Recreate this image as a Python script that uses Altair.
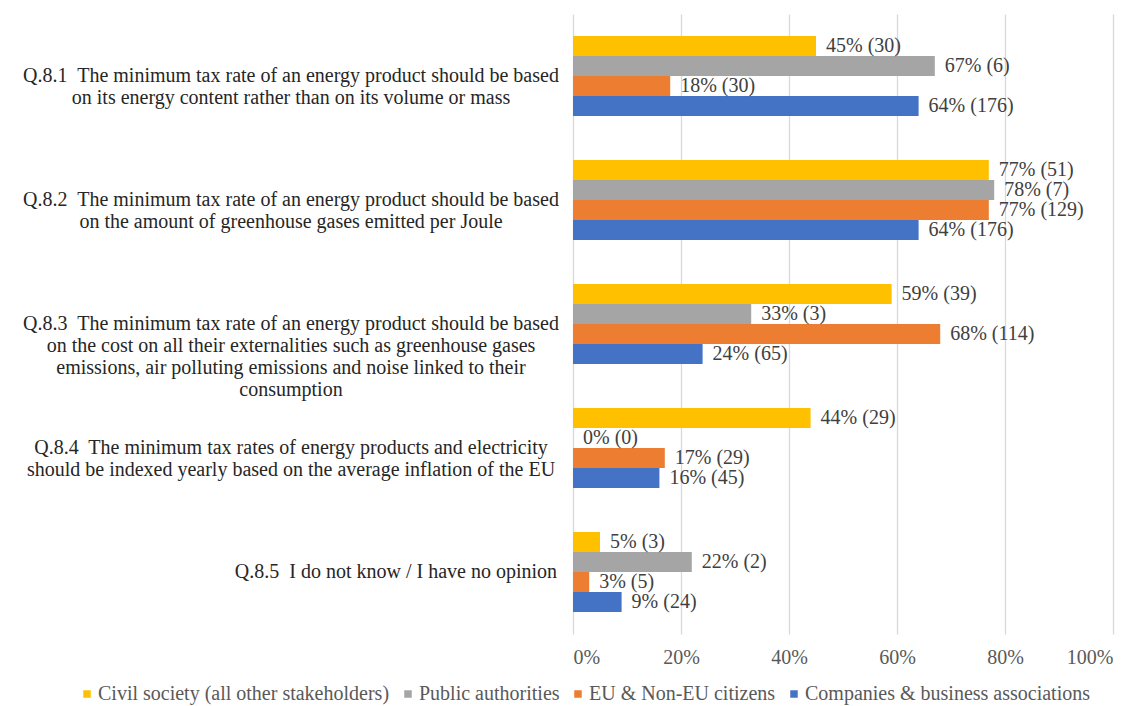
import altair as alt
import pandas as pd

questions = ["Q.8.1", "Q.8.2", "Q.8.3", "Q.8.4", "Q.8.5"]
question_texts = [
    "Q.8.1\u00a0 The minimum tax rate of an energy product should be based|on its energy content rather than on its volume or mass",
    "Q.8.2\u00a0 The minimum tax rate of an energy product should be based|on the amount of greenhouse gases emitted per Joule",
    "Q.8.3\u00a0 The minimum tax rate of an energy product should be based|on the cost on all their externalities such as greenhouse gases|emissions, air polluting emissions and noise linked to their|consumption",
    "Q.8.4\u00a0 The minimum tax rates of energy products and electricity|should be indexed yearly based on the average inflation of the EU",
    "Q.8.5\u00a0 I do not know / I have no opinion",
]
groups = [
    "Civil society (all other stakeholders)",
    "Public authorities",
    "EU & Non-EU citizens",
    "Companies & business associations",
]
colors = ["#FFC000", "#A5A5A5", "#ED7D31", "#4472C4"]

# percentages per question, one list per group
civil_pct = [45, 77, 59, 44, 5]
public_pct = [67, 78, 33, 0, 22]
citizens_pct = [18, 77, 68, 17, 3]
companies_pct = [64, 64, 24, 16, 9]
# counts per question
civil_n = [30, 51, 39, 29, 3]
public_n = [6, 7, 3, 0, 2]
citizens_n = [30, 129, 114, 29, 5]
companies_n = [176, 176, 65, 45, 24]

pcts = [civil_pct, public_pct, citizens_pct, companies_pct]
counts = [civil_n, public_n, citizens_n, companies_n]

rows = []
for gi, g in enumerate(groups):
    for qi, q in enumerate(questions):
        rows.append({
            "q": q,
            "group": g,
            "pct": pcts[gi][qi] / 100,
            "label": f"{pcts[gi][qi]}% ({counts[gi][qi]})",
        })
df = pd.DataFrame(rows)
qdf = pd.DataFrame({"q": questions, "text": question_texts})

FONT = "'Liberation Serif', 'Times New Roman', Times, serif"

y_scale = alt.Scale(domain=questions, paddingInner=0.355, paddingOuter=0.1775)
y_enc = alt.Y("q:N", scale=y_scale, axis=None)

bars = alt.Chart(df).mark_bar().encode(
    x=alt.X("pct:Q", scale=alt.Scale(domain=[0, 1]),
            axis=alt.Axis(values=[0, 0.2, 0.4, 0.6, 0.8, 1.0], format=".0%",
                          grid=True, gridColor="#D9D9D9", gridWidth=1.3,
                          domain=False, ticks=False, labelFont=FONT,
                          labelFontSize=20, labelColor="#595959",
                          labelPadding=13, title=None)),
    y=y_enc,
    yOffset=alt.YOffset("group:N", sort=groups),
    color=alt.Color("group:N", sort=groups,
                    scale=alt.Scale(domain=groups, range=colors),
                    legend=alt.Legend(orient="none", legendX=-496, legendY=670,
                                      direction="horizontal", title=None,
                                      symbolType="square", symbolSize=56,
                                      symbolStrokeWidth=0, labelOffset=1,
                                      labelFont=FONT, labelFontSize=20,
                                      labelColor="#595959", columnPadding=8,
                                      labelLimit=0)),
)

values = alt.Chart(df).mark_text(align="left", baseline="middle", dx=10,
                                 font=FONT, fontSize=20, color="#404040").encode(
    x="pct:Q",
    y=y_enc,
    yOffset=alt.YOffset("group:N", sort=groups),
    text="label:N",
)

qlabels_multi = alt.Chart(qdf).transform_filter(
    "indexof(datum.text, '|') >= 0"
).mark_text(align="center", baseline="middle", lineBreak="|", lineHeight=22,
            font=FONT, fontSize=20, color="#262626").encode(
    x=alt.value(-282),
    y=alt.Y("q:N", scale=y_scale, axis=None),
    text="text:N",
)
qlabels_single = alt.Chart(qdf).transform_filter(
    "indexof(datum.text, '|') < 0"
).mark_text(align="right", baseline="middle",
            font=FONT, fontSize=20, color="#262626").encode(
    x=alt.value(-16),
    y=alt.Y("q:N", scale=y_scale, axis=None),
    text="text:N",
)

chart = alt.layer(bars, values, qlabels_multi, qlabels_single).properties(
    width=540, height=620,
    autosize=alt.AutoSizeParams(type="none"),
    padding={"left": 573, "top": 14, "right": 25, "bottom": 72},
    background="white",
).configure_view(stroke=None)

chart.save("out.html", embed_options={"renderer": "svg", "actions": False})
